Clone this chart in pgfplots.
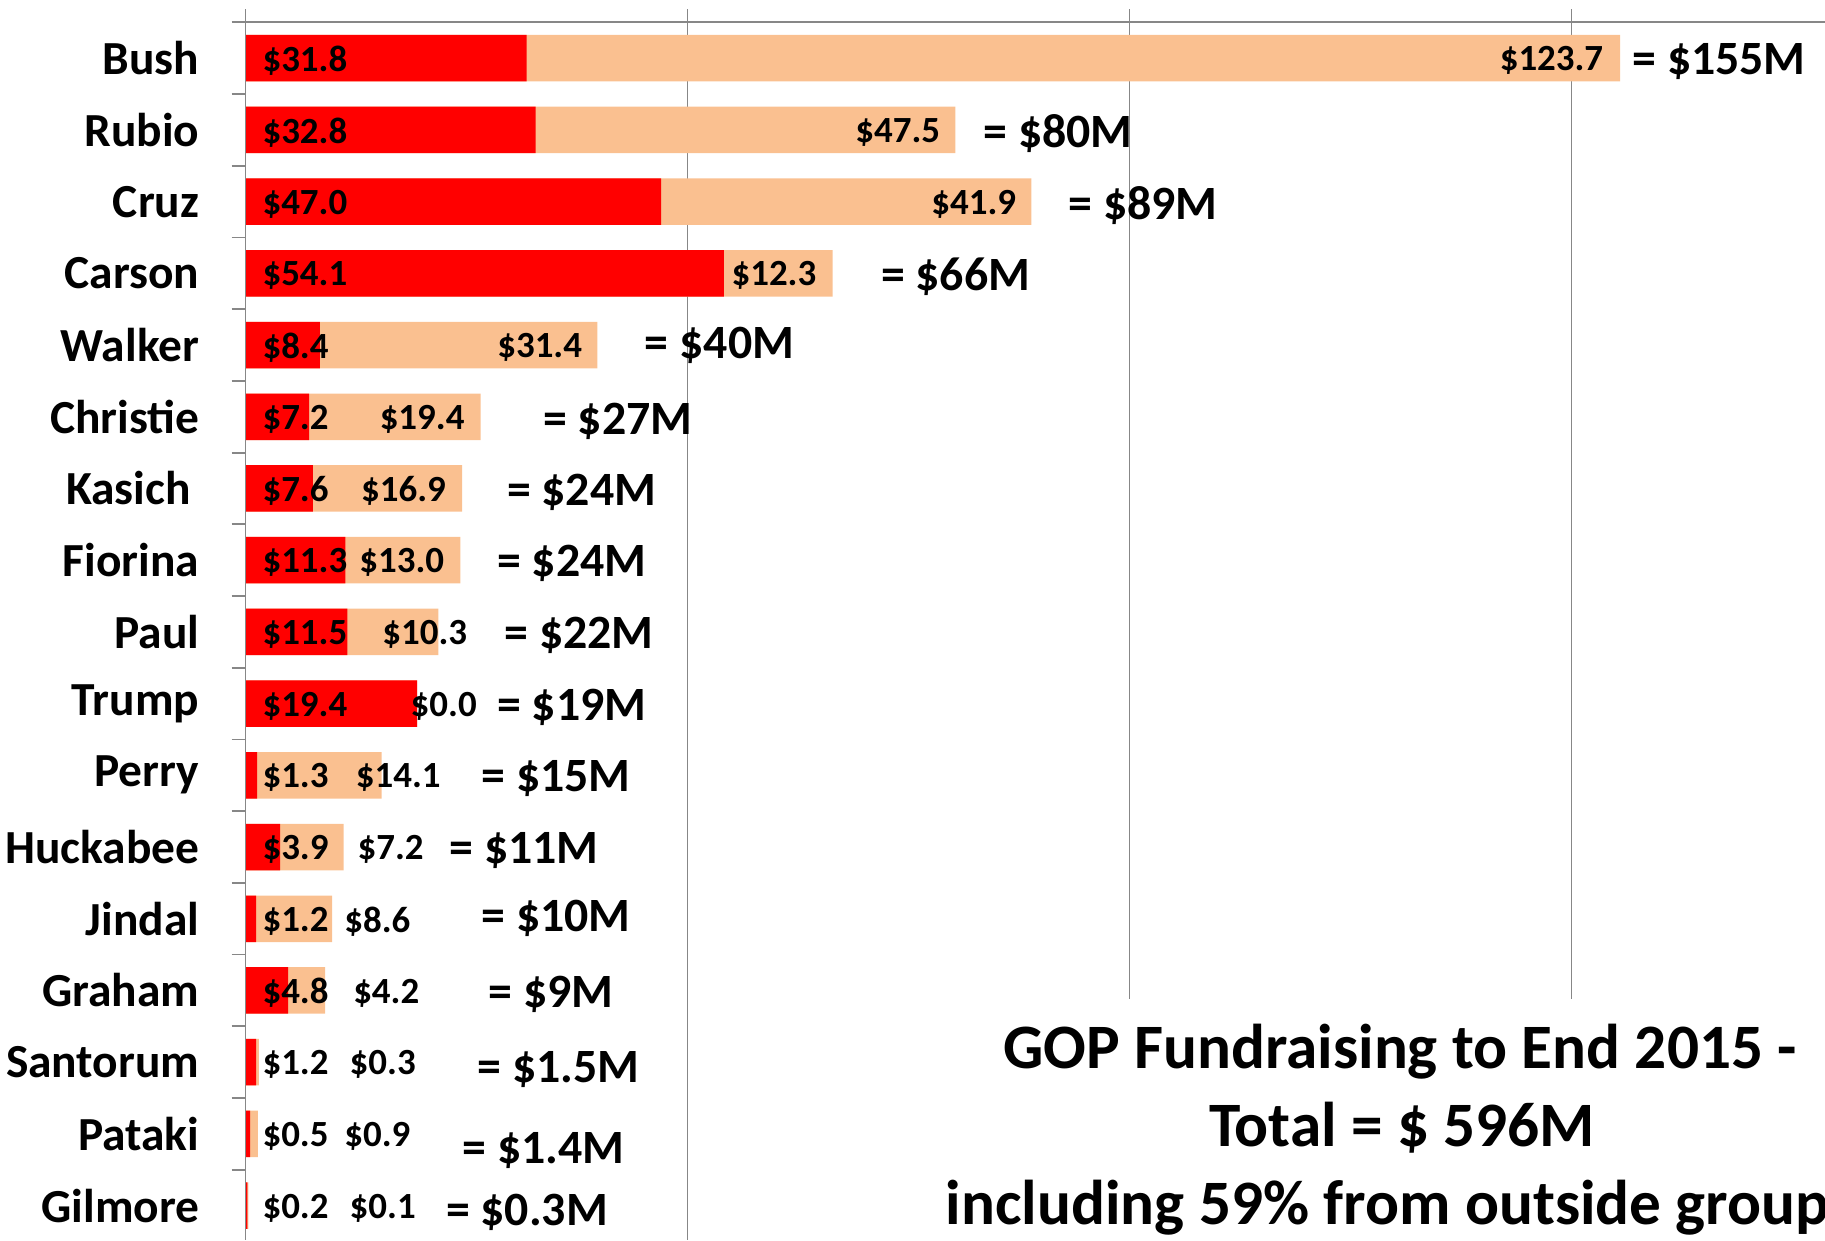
\documentclass[border=0pt]{standalone}
\usepackage{fontspec}
\setmainfont{Carlito}
\usepackage{pgfplots}
\usepackage{pgfplotstable}
\pgfplotsset{compat=1.18}
\definecolor{peach}{HTML}{FAC090}
\definecolor{gridgray}{HTML}{878787}

\pgfplotstableread{
idx cand outside total ox tx ty tl
0  31.8 123.7 155.5 141.8 156.8 0.00 155
1  32.8 47.5  80.3  68.9  83.4  0.00 80
2  47.0 41.9  88.9  77.5  93.0  0.00 89
3  54.1 12.3  66.4  54.9  71.8  0.00 66
4  8.4  31.4  39.8  28.4  45.1  -0.05 40
5  7.2  19.4  26.6  15.1  33.6  0.02 27
6  7.6  16.9  24.5  13.0  29.5  0.00 24
7  11.3 13.0  24.3  12.8  28.4  0.00 24
8  11.5 10.3  21.8  15.4  29.2  0.00 22
9  19.4 0.0   19.4  18.6  28.4  0.00 19
10 1.3  14.1  15.4  12.4  26.6  0.00 15
11 3.9  7.2   11.1  12.6  23.0  0.00 11
12 1.2  8.6   9.8   11.1  26.6  -0.05 10
13 4.8  4.2   9.0   12.1  27.4  0.00 9
14 1.2  0.3   1.5   11.7  26.2  0.05 1.5
15 0.5  0.9   1.4   11.1  24.5  0.18 1.4
16 0.2  0.1   0.3   11.7  22.6  0.05 0.3
}\data

\begin{document}
\begin{tikzpicture}
\useasboundingbox (0,0) rectangle (18.25,12.40);
\begin{axis}[
  at={(2.456cm,0cm)}, anchor=south west,
  scale only axis, width=15.794cm, height=12.31cm,
  xmin=0, xmax=178.67, ymin=-0.686, ymax=16.48,
  y dir=reverse,
  axis line style={draw=none},
  xtick={50,100,150}, xticklabels={}, xmajorgrids,
  grid style={gridgray, line width=0.5pt},
  ytick={0,...,16},
  yticklabels={Bush,Rubio,Cruz,Carson,Walker,Christie,Kasich\rule{0.085cm}{0pt},Fiorina,Paul,Trump,Perry,Huckabee,Jindal,Graham,Santorum,Pataki,Gilmore},
  yticklabel style={font=\fontsize{13.5pt}{16pt}\selectfont\bfseries, anchor=east, inner sep=0pt, xshift=-0.456cm},
  minor ytick={-0.5,0.5,...,16.5},
  major tick length=0pt, minor tick length=0.14cm,
  tick align=outside, ytick pos=left, xtick pos=left,
  minor tick style={gridgray, line width=0.5pt},
  clip=false,
]
\addplot[xbar, bar shift=0pt, bar width=0.465cm, fill=peach, draw=none] table[x=total, y=idx]{\data};
\addplot[xbar, bar shift=0pt, bar width=0.465cm, fill=red, draw=none] table[x=cand, y=idx]{\data};
% red labels
\addplot[draw=none, mark=none, nodes near coords={\$\pgfplotspointmeta}, point meta=explicit symbolic,
  every node near coord/.style={anchor=west, inner sep=0pt, yshift=-0.025cm, font=\fontsize{10.5pt}{12pt}\selectfont\bfseries, text=black}]
  table[x expr=1.84, y=idx, meta=cand]{\data};
% outside labels
\addplot[draw=none, mark=none, nodes near coords={\$\pgfplotspointmeta}, point meta=explicit symbolic,
  every node near coord/.style={anchor=west, inner sep=0pt, yshift=-0.025cm, font=\fontsize{10.5pt}{12pt}\selectfont\bfseries, text=black}]
  table[x=ox, y=idx, meta=outside]{\data};
% totals
\addplot[draw=none, mark=none, nodes near coords={= \$\pgfplotspointmeta M}, point meta=explicit symbolic,
  every node near coord/.style={anchor=west, inner sep=0pt, yshift=-0.035cm, font=\fontsize{13.6pt}{16pt}\selectfont\bfseries, text=black}]
  table[x=tx, y expr=\thisrow{idx}+\thisrow{ty}, meta=tl]{\data};
\draw[gridgray, line width=0.5pt] (axis cs:0,-0.686) -- (axis cs:0,16.48);
\draw[gridgray, line width=0.5pt] (axis cs:0,-0.5) -- (axis cs:178.67,-0.5);
\end{axis}
\fill[white] (9.31,0) rectangle (18.4,2.41);
\begin{scope}[every node/.style={font=\fontsize{18pt}{21pt}\selectfont\bfseries, anchor=base, inner sep=0pt}]
\node at (14.00,1.714) {GOP Fundraising to End 2015 -};
\node at (14.02,0.935) {Total = \$ 596M};
\node at (14.00,0.155) {including 59\% from outside groups};
\end{scope}
\end{tikzpicture}
\end{document}
